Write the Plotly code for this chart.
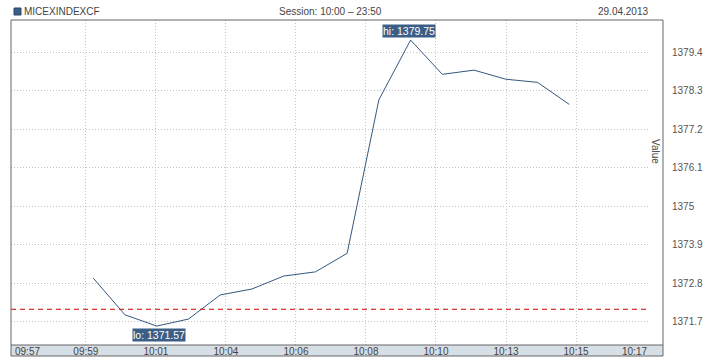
import plotly.graph_objects as go

# ---- data ----
times = ["2013-04-29 10:%02d" % m for m in range(16)]
values = [1372.94, 1371.89, 1371.57, 1371.77, 1372.46, 1372.63, 1373.00, 1373.12,
          1373.65, 1378.04, 1379.75, 1378.77, 1378.89, 1378.63, 1378.54, 1377.91]
prev_close = 1372.05

x_tick_times = ["2013-04-29 09:59:46", "2013-04-29 10:01:58.4", "2013-04-29 10:04:10.8",
                "2013-04-29 10:06:23.2", "2013-04-29 10:08:35.6", "2013-04-29 10:10:48",
                "2013-04-29 10:13:00.4", "2013-04-29 10:15:12.8"]
x_tick_labels = ["09:59", "10:01", "10:04", "10:06", "10:08", "10:10", "10:13", "10:15"]
x_edge_labels = ["09:57", "10:17"]
x_range = ["2013-04-29 09:57:24.4", "2013-04-29 10:17:30.8"]

y_tick_vals = [1371.7, 1372.8, 1373.9, 1375.0, 1376.1, 1377.2, 1378.3, 1379.4]
y_tick_labels = ["1371.7", "1372.8", "1373.9", "1375", "1376.1", "1377.2", "1378.3", "1379.4"]
y_range = [1371.028, 1380.324]

series_name = "MICEXINDEXCF"
session_text = "Session: 10:00 \u2013 23:50"
date_text = "29.04.2013"

LINE = "#34587f"
BOX = "#3b5e86"
FONT = "Liberation Sans"
TXT = "#444444"

W, H = 718, 360
L, R, T, B = 11, 69, 20, 15
pw, ph = W - L - R, H - T - B


def px(xp):
    return (xp - L) / pw


def py(yp):
    return (H - B - yp) / ph


fig = go.Figure()
fig.add_trace(go.Scatter(x=times, y=values, mode="lines",
                         line=dict(color=LINE, width=1), showlegend=False,
                         hoverinfo="x+y"))

i_hi = values.index(max(values))
i_lo = values.index(min(values))

annotations = [
    dict(x=times[i_hi], y=values[i_hi], xref="x", yref="y", text="hi: %.2f" % values[i_hi],
         showarrow=False, yanchor="bottom", yshift=2, xshift=-2, bgcolor=BOX,
         font=dict(family=FONT, size=10.5, color="white"), borderpad=0),
    dict(x=times[i_lo], y=values[i_lo], xref="x", yref="y", text="lo: %.2f" % values[i_lo],
         showarrow=False, yanchor="top", yshift=-2, xshift=2, bgcolor=BOX,
         font=dict(family=FONT, size=10.5, color="white"), borderpad=0),
    dict(x=px(22), y=py(12), xref="paper", yref="paper", text=series_name, showarrow=False,
         xanchor="left", yanchor="middle", font=dict(family=FONT, size=10, color=TXT)),
    dict(x=px(331), y=py(12), xref="paper", yref="paper", text=session_text, showarrow=False,
         xanchor="center", yanchor="middle", font=dict(family=FONT, size=10, color=TXT)),
    dict(x=px(650), y=py(12), xref="paper", yref="paper", text=date_text, showarrow=False,
         xanchor="right", yanchor="middle", font=dict(family=FONT, size=10, color=TXT)),
    dict(x=px(656), y=py(152), xref="paper", yref="paper", text="Value", showarrow=False,
         textangle=90, xanchor="center", yanchor="middle",
         font=dict(family=FONT, size=10, color=TXT)),
    dict(x=px(13), y=py(351), xref="paper", yref="paper", text=x_edge_labels[0], showarrow=False,
         xanchor="left", yanchor="middle", font=dict(family=FONT, size=10, color=TXT)),
    dict(x=px(649), y=py(351), xref="paper", yref="paper", text=x_edge_labels[1], showarrow=False,
         xanchor="right", yanchor="middle", font=dict(family=FONT, size=10, color=TXT)),
]

shapes = [
    # axis band
    dict(type="rect", xref="paper", yref="paper", x0=0, x1=px(663), y0=py(356), y1=0,
         fillcolor="#d6dee6", line=dict(width=0), layer="below"),
    # previous close reference line
    dict(type="line", xref="paper", yref="y", x0=0, x1=1, y0=prev_close, y1=prev_close,
         line=dict(color="#cc0000", width=1, dash="5px,4px")),
    # frame
    dict(type="rect", xref="paper", yref="paper", x0=0, x1=px(663), y0=py(356), y1=1,
         line=dict(color="#666666", width=1)),
    dict(type="line", xref="paper", yref="paper", x0=0, x1=px(663), y0=0, y1=0,
         line=dict(color="#666666", width=1)),
    # legend square
    dict(type="rect", xref="paper", yref="paper", x0=px(14), x1=px(21), y0=py(15), y1=py(8),
         fillcolor=BOX, line=dict(color="#2a4668", width=1)),
]

fig.update_layout(
    width=W, height=H,
    margin=dict(l=L, r=R, t=T, b=B, pad=0, autoexpand=False),
    paper_bgcolor="white", plot_bgcolor="white",
    font=dict(family=FONT, size=10, color=TXT),
    annotations=annotations, shapes=shapes,
    xaxis=dict(type="date", range=x_range, tickvals=x_tick_times, ticktext=x_tick_labels,
               showgrid=True, gridcolor="#c4c4c4", griddash="1px,2px", gridwidth=1,
               zeroline=False, showline=False, ticks="", ticklabelstandoff=-1,
               tickfont=dict(family=FONT, size=10, color=TXT), fixedrange=True),
    yaxis=dict(range=y_range, side="right", tickvals=y_tick_vals, ticktext=y_tick_labels,
               showgrid=True, gridcolor="#c4c4c4", griddash="1px,2px", gridwidth=1,
               zeroline=False, showline=False, ticks="", ticklabelstandoff=22,
               tickfont=dict(family=FONT, size=10, color="#555555"), fixedrange=True),
)

fig.write_html("out.html", config={"displayModeBar": False},
               post_script="document.body.style.margin='0';document.body.style.overflow='hidden';")
